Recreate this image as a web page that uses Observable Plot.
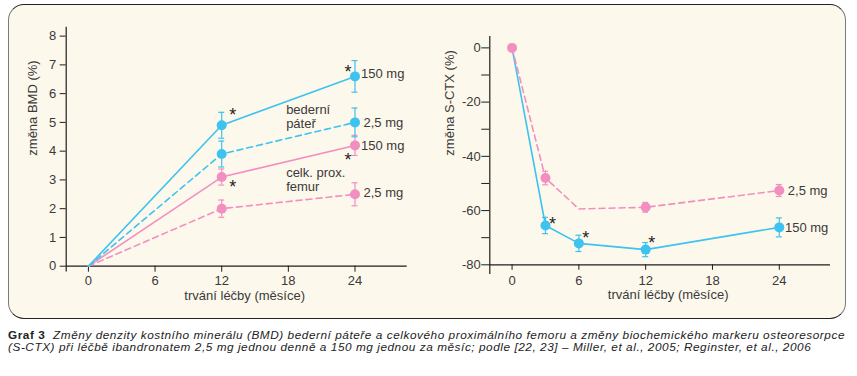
<!DOCTYPE html>
<html>
<head>
<meta charset="utf-8">
<script src="https://cdn.jsdelivr.net/npm/d3@7"></script>
<script src="https://cdn.jsdelivr.net/npm/@observablehq/plot@0.6"></script>
<style>
  html, body { margin: 0; padding: 0; background: #ffffff; }
  #page { position: relative; width: 857px; height: 376px; overflow: hidden; font-family: "Liberation Sans", Arial, sans-serif; }
  #box { position: absolute; left: 8px; top: 4px; width: 838px; height: 315px; background: #fdf8ec;
         border: 1.3px solid #7a7a7a; border-top-color: #222; border-bottom-color: #222; border-radius: 16px; box-sizing: border-box; }
  #left { position: absolute; left: 0; top: 0; }
  #right { position: absolute; left: 430px; top: 0; }
  #caption { position: absolute; left: 8px; top: 328.5px; font-size: 11.8px; line-height: 12.6px; color: #222; font-style: italic; white-space: nowrap; }
  #caption b { font-style: normal; }
</style>
</head>
<body>
<div id="page">
  <div id="box"></div>
  <div id="left"></div>
  <div id="right"></div>
  <div id="caption">
    <div class="ln" id="ln1"><b>Graf 3</b>&nbsp; Změny denzity kostního minerálu (BMD) bederní páteře a celkového proximálního femoru a změny biochemického markeru osteoresorpce</div>
    <div class="ln" id="ln2">(S-CTX) při léčbě ibandronatem 2,5 mg jednou denně a 150 mg jednou za měsíc; podle [22, 23] – Miller, et al., 2005; Reginster, et al., 2006</div>
  </div>
</div>
<script>
// ---------- data: left chart (BMD change, %) ----------
const bmdMonths = [0, 12, 24];
const spine150 = [0, 4.9, 6.6];
const spine150Err = [0, 0.45, 0.55];
const spine25 = [0, 3.9, 5.0];
const spine25Err = [0, 0.45, 0.5];
const femur150 = [0, 3.1, 4.2];
const femur150Err = [0, 0.28, 0.35];
const femur25 = [0, 2.0, 2.5];
const femur25Err = [0, 0.3, 0.4];
const bmdYTicks = [0, 1, 2, 3, 4, 5, 6, 7, 8];
const monthTicks = [0, 6, 12, 18, 24];
const groupLabels = ["bederní\npáteř", "celk. prox.\nfemur"];
const groupLabelX = [17.8, 17.8];
const groupLabelY = [5.2, 3.0];

// ---------- data: right chart (S-CTX change, %) ----------
const ctxMonths = [0, 3, 6, 12, 24];
const ctx25 = [0, -48, -59.4, -58.8, -52.6];
const ctx25Err = [0, 2.5, 0, 1.8, 2.2];
const ctx25Dot = [true, true, false, true, true];
const ctx150 = [0, -65.5, -72.1, -74.4, -66.2];
const ctx150Err = [0, 3, 3, 2.6, 3.5];
const ctx150Dot = [false, true, true, true, true];
const ctxYTicks = [-80, -70, -60, -50, -40, -30, -20, -10, 0];

const doseLabels = ["150 mg", "2,5 mg"];
const xLabel = "trvání léčby (měsíce)";

const BLUE = "#3ec2ef";
const PINK = "#f28fc0";
const INK = "#1e1e1e";
const TXT = "#3a3a3a";

function rows(xs, ys, errs, dots, series) {
  return xs.map((x, i) => ({x, y: ys[i], err: errs[i], dot: dots ? dots[i] : x > 0, series}));
}

function seriesMarks(data, color, dashed) {
  const capHalf = 0.27;
  const withErr = data.filter(d => d.err > 0);
  return [
    Plot.line(data, {x: "x", y: "y", stroke: color, strokeWidth: 1.6, strokeDasharray: dashed ? "6,4" : null}),
    Plot.ruleX(withErr, {x: "x", y1: d => d.y - d.err, y2: d => d.y + d.err, stroke: color, strokeWidth: 1.2}),
    Plot.ruleY(withErr, {y: d => d.y - d.err, x1: d => d.x - capHalf, x2: d => d.x + capHalf, stroke: color, strokeWidth: 1.2}),
    Plot.ruleY(withErr, {y: d => d.y + d.err, x1: d => d.x - capHalf, x2: d => d.x + capHalf, stroke: color, strokeWidth: 1.2}),
    Plot.dot(data.filter(d => d.dot), {x: "x", y: "y", r: 5, fill: color, stroke: null})
  ];
}

function star(x, y, dx, dy) {
  return Plot.text([{x, y}], {x: "x", y: "y", text: () => "*", dx, dy, fontSize: 18, fill: INK, textAnchor: "middle"});
}
function dose(x, y, label, dx, dy) {
  return Plot.text([{x, y}], {x: "x", y: "y", text: () => label, dx, dy, fontSize: 13, fill: TXT, textAnchor: "start"});
}

// ---------- left chart ----------
const sp150 = rows(bmdMonths, spine150, spine150Err, null, "spine150");
const sp25 = rows(bmdMonths, spine25, spine25Err, null, "spine25");
const fe150 = rows(bmdMonths, femur150, femur150Err, null, "femur150");
const fe25 = rows(bmdMonths, femur25, femur25Err, null, "femur25");
const last = bmdMonths.length - 1;

const left = Plot.plot({
  width: 430, height: 320,
  marginLeft: 65.7, marginRight: 23.3, marginTop: 26.7, marginBottom: 54.3,
  style: {background: "transparent", fontFamily: "Liberation Sans, Arial, sans-serif", fontSize: "13px", color: TXT},
  x: {domain: [-2, 28.7]},
  y: {domain: [0, 8.31]},
  marks: [
    Plot.axisY({ticks: bmdYTicks, tickSize: 6, tickPadding: 4, tickFormat: d => String(d), label: null, stroke: INK, fill: TXT, fontSize: 13}),
    Plot.axisX({ticks: monthTicks, tickSize: 6, tickPadding: 3.5, tickFormat: d => String(d), label: null, stroke: INK, fill: TXT, fontSize: 13}),
    Plot.ruleX([-2], {y1: -0.2, y2: 8.31, stroke: INK, strokeWidth: 1.2, clip: false}),
    Plot.ruleY([0], {x1: -2, x2: 28.7, stroke: INK, strokeWidth: 1.2}),
    Plot.text(["změna BMD (%)"], {frameAnchor: "left", text: d => d, rotate: -90, dx: -33, dy: 9, fontSize: 13, fill: TXT}),
    Plot.text([xLabel], {frameAnchor: "bottom", text: d => d, dx: 8, dy: 33.5, fontSize: 13, fill: TXT}),
    ...seriesMarks(fe25, PINK, true),
    ...seriesMarks(fe150, PINK, false),
    ...seriesMarks(sp25, BLUE, true),
    ...seriesMarks(sp150, BLUE, false),
    star(bmdMonths[1], spine150[1], 11, -10),
    star(bmdMonths[last], spine150[last], -7, -4),
    star(bmdMonths[1], femur150[1], 11, 10),
    star(bmdMonths[last], femur150[last], -7, 15),
    dose(bmdMonths[last], spine150[last], doseLabels[0], 6, -3),
    dose(bmdMonths[last], spine25[last], doseLabels[1], 8.5, 0),
    dose(bmdMonths[last], femur150[last], doseLabels[0], 6, 0),
    dose(bmdMonths[last], femur25[last], doseLabels[1], 8.5, -1),
    Plot.text(groupLabels, {x: (d, i) => groupLabelX[i], y: (d, i) => groupLabelY[i], text: d => d, textAnchor: "start", lineHeight: 1.05, fontSize: 13, fill: TXT})
  ]
});
document.getElementById("left").appendChild(left);

// ---------- right chart ----------
const c25 = rows(ctxMonths, ctx25, ctx25Err, ctx25Dot, "ctx25");
const c150 = rows(ctxMonths, ctx150, ctx150Err, ctx150Dot, "ctx150");
const cl = ctxMonths.length - 1;

const right = Plot.plot({
  width: 427, height: 320,
  marginLeft: 59.3, marginRight: 27, marginTop: 36, marginBottom: 55.7,
  style: {background: "transparent", fontFamily: "Liberation Sans, Arial, sans-serif", fontSize: "13px", color: TXT},
  x: {domain: [-2, 28.6]},
  y: {domain: [-80, 4.2]},
  marks: [
    Plot.axisY({ticks: ctxYTicks, tickSize: 8, tickPadding: 1, tickFormat: d => d % 20 === 0 ? String(d) : "", label: null, stroke: INK, fill: TXT, fontSize: 13}),
    Plot.axisX({ticks: monthTicks, tickSize: 5.5, tickPadding: 5, tickFormat: d => String(d), label: null, stroke: INK, fill: TXT, fontSize: 13}),
    Plot.ruleX([-2], {y1: -83.6, y2: 4.2, stroke: INK, strokeWidth: 1.2, clip: false}),
    Plot.ruleY([-80], {x1: -2, x2: 28.6, stroke: INK, strokeWidth: 1.2}),
    Plot.text(["změna S-CTX (%)"], {frameAnchor: "left", text: d => d, rotate: -90, dx: -40, dy: 5, fontSize: 13, fill: TXT}),
    Plot.text([xLabel], {frameAnchor: "bottom", text: d => d, dx: 8, dy: 34, fontSize: 13, fill: TXT}),
    ...seriesMarks(c150, BLUE, false),
    ...seriesMarks(c25, PINK, true),
    star(ctxMonths[1], ctx150[1], 7, -1),
    star(ctxMonths[2], ctx150[2], 7, -5),
    star(ctxMonths[3], ctx150[3], 6, -6),
    dose(ctxMonths[cl], ctx25[cl], doseLabels[1], 8.5, 0),
    dose(ctxMonths[cl], ctx150[cl], doseLabels[0], 5.7, 0)
  ]
});
document.getElementById("right").appendChild(right);

// fit caption line 1 to the box width by letter spacing
(function fitCaption() {
  const l1 = document.getElementById("ln1");
  const l2 = document.getElementById("ln2");
  l1.style.display = "inline-block"; l2.style.display = "inline-block";
  const w = l1.getBoundingClientRect().width;
  const n = l1.textContent.length;
  const ls = (837 - w) / n;
  l1.style.letterSpacing = ls + "px"; l2.style.letterSpacing = ls + "px";
  l1.style.display = "block"; l2.style.display = "block";
})();
</script>
</body>
</html>
